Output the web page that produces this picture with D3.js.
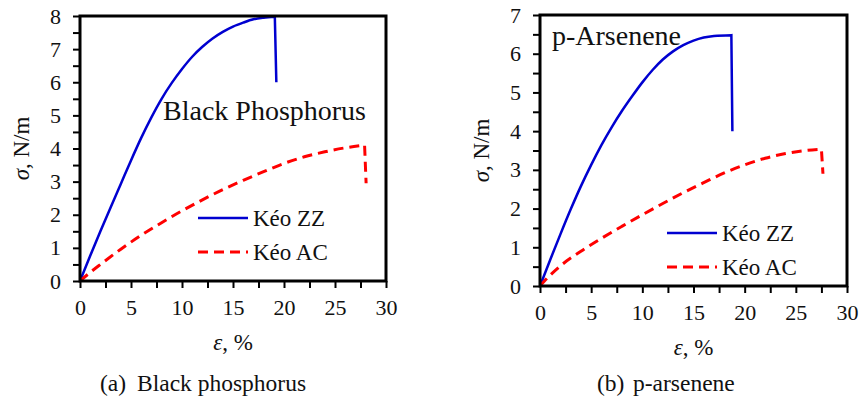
<!DOCTYPE html>
<html>
<head>
<meta charset="utf-8">
<script src="https://cdn.jsdelivr.net/npm/d3@7"></script>
<style>
  body { margin: 0; background: #fff; }
</style>
</head>
<body>
<div id="chart"></div>
<script>
// stress-strain curves: [strain %, stress N/m]
// last point of each series is the drop after fracture
const bpZZ = [[0,0],[1,0.76],[2,1.5],[3,2.22],[4,2.93],[5,3.64],[6,4.32],[7,4.94],[8,5.5],[9,5.98],[10,6.4],[11,6.77],[12,7.07],[13,7.32],[14,7.52],[15,7.68],[16,7.8],[17,7.9],[18,7.95],[19.1,7.98],[19.25,6.0]];
const bpAC = [[0,0],[1,0.26],[2,0.5],[4,0.96],[6,1.38],[8,1.76],[10,2.12],[12,2.45],[14,2.76],[16,3.04],[18,3.3],[20,3.55],[22,3.75],[24,3.9],[26,4.02],[27.9,4.1],[28.05,2.95]];
const asZZ = [[0,0],[1,0.68],[2,1.34],[3,1.98],[4,2.58],[5,3.13],[6,3.64],[7,4.1],[8,4.52],[9,4.9],[10,5.26],[11,5.58],[12,5.85],[13,6.06],[14,6.22],[15,6.34],[16,6.42],[17,6.46],[18.7,6.48],[18.8,4.0]];
const asAC = [[0,0],[1,0.28],[2,0.52],[4,0.9],[6,1.23],[8,1.54],[10,1.84],[12,2.13],[14,2.41],[16,2.67],[18,2.92],[20,3.13],[22,3.3],[24,3.42],[26,3.5],[27.5,3.53],[27.65,2.9]];

const xTicks = [0, 5, 10, 15, 20, 25, 30];
const seriesNames = ["Kéo ZZ", "Kéo AC"];

const W = 863, H = 399;
const FONT = "'Liberation Serif', 'Times New Roman', 'DejaVu Serif', serif";

const svg = d3.select("#chart")
  .append("svg")
    .attr("width", W)
    .attr("height", H)
    .attr("font-family", FONT);

const panels = [
  { zz: bpZZ, ac: bpAC, yMax: 8, x0: 80, x1: 386, yTop: 16, yBot: 281,
    title: "Black Phosphorus", titleX: 163, titleY: 120,
    legX: 198, legY: 218, caption: ["(a)", "Black phosphorus"], capX: 100, capX2: 137 },
  { zz: asZZ, ac: asAC, yMax: 7, x0: 540, x1: 847, yTop: 15, yBot: 286,
    title: "p-Arsenene", titleX: 552, titleY: 45,
    legX: 667, legY: 233, caption: ["(b)", "p-arsenene"], capX: 597, capX2: 633 }
];

panels.forEach(p => {
  const x = d3.scaleLinear().domain([0, 30]).range([p.x0, p.x1]);
  const y = d3.scaleLinear().domain([0, p.yMax]).range([p.yBot, p.yTop]);
  const g = svg.append("g");

  // axes
  const yAxis = g.append("g")
      .attr("transform", `translate(${p.x0},0)`)
      .call(d3.axisLeft(y)
        .tickValues(d3.range(0, p.yMax + 0.01, 0.5))
        .tickFormat(d => Number.isInteger(d) ? d : "")
        .tickSize(7).tickPadding(12));
  const xAxis = g.append("g")
      .attr("transform", `translate(0,${p.yBot})`)
      .call(d3.axisBottom(x)
        .tickValues(d3.range(0, 30.01, 2.5))
        .tickFormat(d => xTicks.includes(d) ? d : "")
        .tickSize(7).tickPadding(11));
  [xAxis, yAxis].forEach(a => {
    a.attr("font-family", FONT).attr("font-size", 22);
    a.select(".domain").remove();
    a.selectAll("line").attr("stroke", "#000").attr("stroke-width", 2);
    a.selectAll("text").attr("fill", "#111");
  });

  // curves
  const curve = d3.line()
      .x(d => x(d[0]))
      .y(d => y(d[1]))
      .curve(d3.curveMonotoneX);
  const pathOf = data => {
    const last = data[data.length - 1];
    return curve(data.slice(0, -1)) + `L${x(last[0])},${y(last[1])}`;
  };

  g.append("path")
      .attr("d", pathOf(p.zz))
      .attr("fill", "none")
      .attr("stroke", "#0000d0")
      .attr("stroke-width", 2.5);
  g.append("path")
      .attr("d", pathOf(p.ac))
      .attr("fill", "none")
      .attr("stroke", "#ff0000")
      .attr("stroke-width", 3)
      .attr("stroke-dasharray", "10,6");

  // frame
  g.append("rect")
      .attr("x", p.x0).attr("y", p.yTop)
      .attr("width", p.x1 - p.x0).attr("height", p.yBot - p.yTop)
      .attr("fill", "none").attr("stroke", "#000").attr("stroke-width", 3);

  // title inside plot
  g.append("text")
      .attr("x", p.titleX).attr("y", p.titleY)
      .attr("font-size", 28).attr("fill", "#111")
      .text(p.title);

  // legend
  seriesNames.forEach((name, i) => {
    const ly = p.legY + i * 34;
    g.append("line")
        .attr("x1", p.legX).attr("x2", p.legX + 50)
        .attr("y1", ly).attr("y2", ly)
        .attr("stroke", i === 0 ? "#0000d0" : "#ff0000")
        .attr("stroke-width", i === 0 ? 2.5 : 3)
        .attr("stroke-dasharray", i === 0 ? null : "10,6");
    g.append("text")
        .attr("x", p.legX + 55).attr("y", ly + 8)
        .attr("font-size", 23).attr("fill", "#111")
        .text(name);
  });

  // axis titles
  const cx = (p.x0 + p.x1) / 2;
  const xl = g.append("text")
      .attr("x", cx).attr("y", p.yBot + 69)
      .attr("text-anchor", "middle")
      .attr("font-size", 23).attr("fill", "#111");
  xl.append("tspan").attr("font-style", "italic").text("ε");
  xl.append("tspan").text(", %");

  const yl = g.append("text")
      .attr("transform", `translate(${p.x0 - 51},${(p.yTop + p.yBot) / 2}) rotate(-90)`)
      .attr("text-anchor", "middle")
      .attr("font-size", 23).attr("fill", "#111");
  yl.append("tspan").attr("font-style", "italic").text("σ");
  yl.append("tspan").text(", N/m");

  // caption
  g.append("text")
      .attr("x", p.capX).attr("y", 391)
      .attr("font-size", 23.5).attr("fill", "#111")
      .text(p.caption[0]);
  g.append("text")
      .attr("x", p.capX2).attr("y", 391)
      .attr("font-size", 23.5).attr("fill", "#111")
      .text(p.caption[1]);
});
</script>
</body>
</html>
